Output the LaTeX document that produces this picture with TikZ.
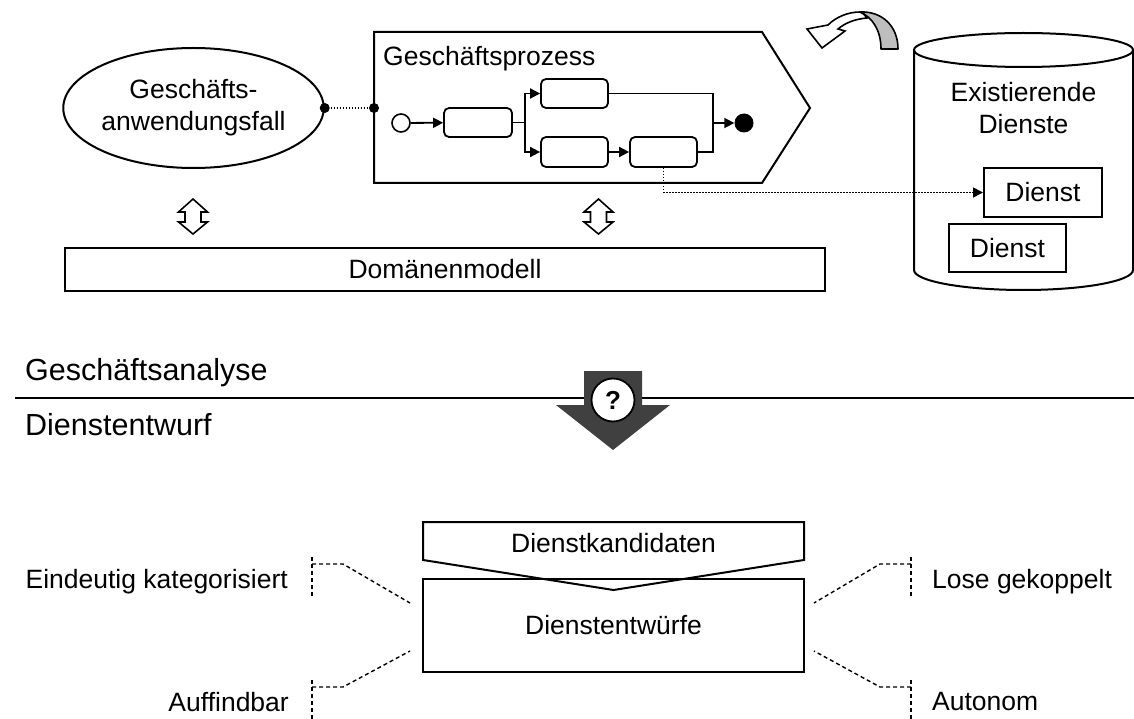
\documentclass[tikz,border=0pt]{standalone}
\usepackage{fontspec}
\setmainfont{Liberation Sans}
\usetikzlibrary{shapes.geometric,arrows.meta}
\begin{document}
\begin{tikzpicture}[x=1pt,y=-1pt,
  txt/.style={font=\fontsize{26.5}{32}\selectfont, inner sep=0pt},
  sec/.style={font=\fontsize{30.5}{36}\selectfont, inner sep=0pt, anchor=west},
  box/.style={draw, line width=2pt, inner sep=0pt},
  act/.style={draw, line width=1.8pt, rounded corners=5pt, inner sep=0pt},
  flow/.style={line width=1.8pt, -{Triangle[length=10pt,width=10pt]}},
  plain/.style={line width=1.8pt},
  dotline/.style={line width=1.6pt, dash pattern=on 1.6pt off 1.4pt},
  dashln/.style={line width=1.4pt, dash pattern=on 4pt off 3pt},
  dblarrow/.style={draw, line width=1.6pt, fill=white, line join=miter}
]
\useasboundingbox (0,0) rectangle (1134,719);

% --- use case ellipse
\node[ellipse, box, minimum width=257pt, minimum height=120pt, txt, align=center] (uc) at (193.5,108) {Geschäfts-\\anwendungsfall};

% --- business process shape
\draw[line width=2pt, line join=miter] (374,32) -- (762,32) -- (810,108) -- (762,183) -- (374,183) -- cycle;
\node[txt, anchor=west] (gp) at (383,59) {Geschäftsprozess};
\coordinate (gpin) at (374,108);

% link from use case to process
\fill (uc.east) circle (5pt);
\fill (gpin) circle (5pt);
\draw[dotline] (uc.east) -- (gpin);

% process flow
\node[circle, draw, line width=1.6pt, minimum size=18pt, inner sep=0pt] (st) at (401,123) {};
\node[act, minimum width=68pt, minimum height=29pt] (b1) at (478,122.5) {};
\node[act, minimum width=67pt, minimum height=29pt] (b2) at (574.5,93.5) {};
\node[act, minimum width=67pt, minimum height=30pt] (b3) at (574.5,152) {};
\node[act, minimum width=67pt, minimum height=30pt] (b4) at (663.5,152) {};
\node[circle, fill=black, minimum size=19pt, inner sep=0pt] (en) at (744,123) {};
\coordinate (fork) at (525,122.5);
\coordinate (join) at (713,123);
\draw[flow] (st) -- (b1);
\draw[plain] (b1.east) -- (fork);
\draw[flow] (fork) |- (b2.west);
\draw[flow] (fork) |- (b3.west);
\draw[flow] (b3) -- (b4);
\draw[plain] (b2.east) -| (join);
\draw[plain] (b4.east) -| (join);
\draw[flow] (join) -- (en);

% --- curved arrow
\draw[line width=1.6pt, fill={rgb,255:red,190;green,190;blue,190}, line join=round]
  (881,49) -- (898,49) .. controls (898,26) and (882,11) .. (860,12)
  .. controls (872,17) and (881,30) .. (881,49) -- cycle;
\draw[line width=1.6pt, fill=white, line join=miter]
  (860,12) .. controls (848,12) and (836,17) .. (828,25) -- (807,29) -- (822,48) -- (845,31) -- (838,29)
  .. controls (845,23) and (855,19) .. (867,18) .. controls (865,15) and (863,13) .. (860,12) -- cycle;

% --- cylinder of existing services
\draw[line width=2pt] (914,50) -- (914,270) arc[start angle=180, end angle=360, x radius=109.5pt, y radius=20pt] -- (1133,50);
\draw[line width=2pt] (1023.5,50) ellipse[x radius=109.5pt, y radius=17pt];
\node[txt, align=center] (ex) at (1023.5,108) {Existierende\\Dienste};
\node[box, txt, minimum width=118pt, minimum height=49pt] (d1) at (1043,192.5) {Dienst};
\node[box, txt, minimum width=117pt, minimum height=48pt] (d2) at (1007.5,248) {Dienst};
\draw[dotline, -{Triangle[length=10pt,width=10pt]}] (b4.south) |- (d1.west);

% --- double arrows
\foreach \cx in {193, 598.5} {
  \draw[dblarrow] (\cx,199) -- (\cx+14.5,212) -- (\cx+8,212) -- (\cx+8,222) -- (\cx+14.5,222) -- (\cx,234)
    -- (\cx-14.5,222) -- (\cx-8,222) -- (\cx-8,212) -- (\cx-14.5,212) -- cycle;
}

% --- domain model
\node[box, txt, minimum width=760pt, minimum height=43pt] (dm) at (445,269.5) {Domänenmodell};

% --- section separator
\node[sec] (ga) at (25,373) {Geschäftsanalyse};
\node[sec] (de) at (25,425) {Dienstentwurf};
\coordinate (sepl) at (15,398);
\coordinate (sepr) at (1134,398);
\draw[line width=2.6pt] (sepl) -- (sepr);

% big arrow
\fill[fill={rgb,255:red,64;green,64;blue,64}] (584,371) -- (642,371) -- (642,405) -- (670,405) -- (613,450) -- (556,405) -- (584,405) -- cycle;
\node[circle, draw, line width=1.8pt, fill=white, minimum size=43pt, inner sep=0pt, font=\fontsize{26}{30}\selectfont\bfseries] (q) at (613,400) {?};

% --- candidates and designs
\node[box, txt, minimum width=381pt, minimum height=93pt] (dw) at (613.5,625.5) {Dienstentwürfe};
\draw[line width=2pt, line join=miter] (423,522) -- (804,522) -- (804,560) -- (613.5,590) -- (423,560) -- cycle;
\node[txt] (dk) at (613.5,543) {Dienstkandidaten};

% --- annotations
\node[txt, anchor=east] (a1) at (288,582) {Eindeutig kategorisiert};
\node[txt, anchor=east] (a2) at (289,702) {Auffindbar};
\node[txt, anchor=west] (a3) at (932,582) {Lose gekoppelt};
\node[txt, anchor=west] (a4) at (932,702) {Autonom};

\coordinate (k1) at (312,564); \coordinate (e1) at (410,603);
\coordinate (k2) at (312,687); \coordinate (e2) at (410,651);
\coordinate (k3) at (911,564); \coordinate (e3) at (814,603);
\coordinate (k4) at (911,687); \coordinate (e4) at (814,651);
\draw[dashln] (312,557) -- (312,598);
\draw[dashln] (312,680) -- (312,719);
\draw[dashln] (911,557) -- (911,598);
\draw[dashln] (911,680) -- (911,719);
\draw[dashln] (k1) -- (343,564) -- (e1);
\draw[dashln] (k2) -- (343,687) -- (e2);
\draw[dashln] (k3) -- (880,564) -- (e3);
\draw[dashln] (k4) -- (880,687) -- (e4);
\end{tikzpicture}
\end{document}
